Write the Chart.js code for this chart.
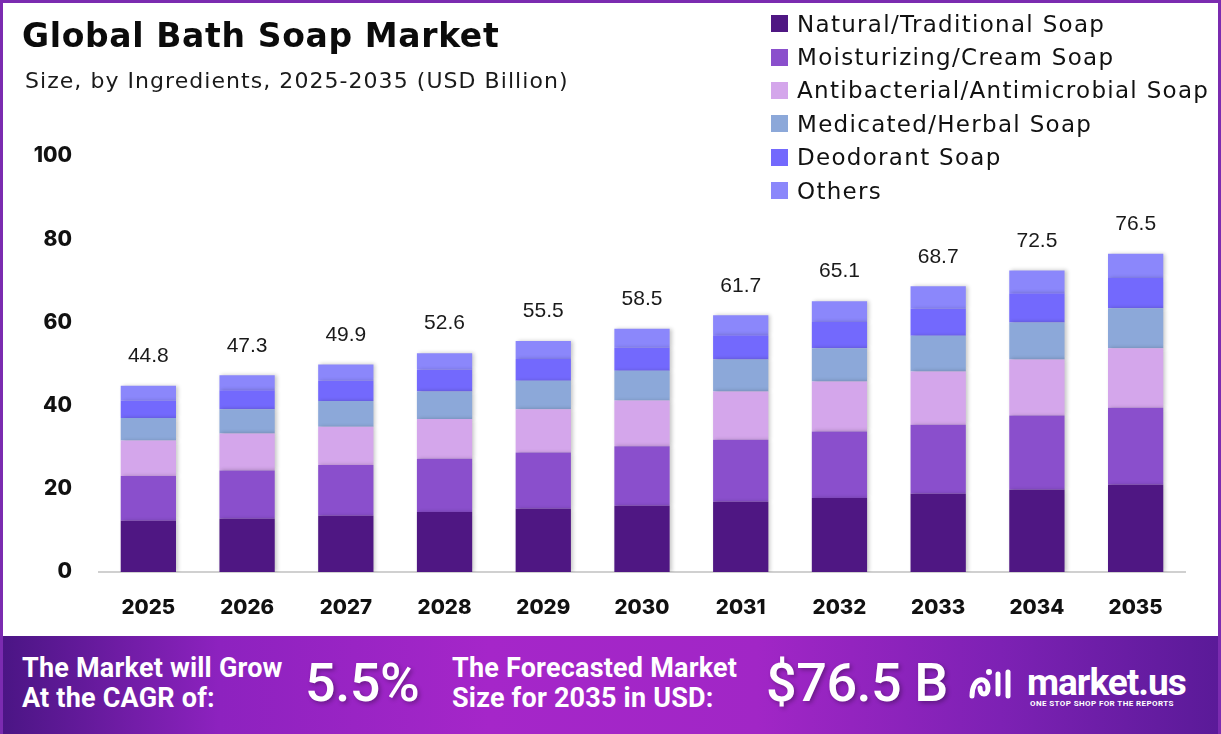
<!DOCTYPE html>
<html>
<head>
<meta charset="utf-8">
<script src="https://cdn.jsdelivr.net/npm/chart.js@4.4.1/dist/chart.umd.min.js"></script>
<style>
  html, body { margin: 0; padding: 0; background: #fff; }
  #frame {
    position: relative; width: 1221px; height: 734px; overflow: hidden;
    box-sizing: border-box; border: 3px solid #7b2bb0; border-bottom: none;
    font-family: Inter, "Noto Sans", sans-serif;
  }
  #chart-wrap { position: absolute; left: -3px; top: -3px; width: 1221px; height: 636px; }
  #title { position: absolute; left: 19px; top: 13px; font-family: "DejaVu Sans", sans-serif; font-size: 33px; font-weight: 700; color: #0b0b0b; letter-spacing: 0.65px; }
  #subtitle { position: absolute; left: 22px; top: 65px; font-family: "DejaVu Sans", sans-serif; font-size: 22px; color: #1a1a1a; letter-spacing: 1.05px; }
  #legend { position: absolute; left: 768px; top: 4px; }
  .lg-row { display: flex; align-items: center; height: 33.4px; font-family: "DejaVu Sans", sans-serif; font-size: 23px; letter-spacing: 1.3px; color: #111; }
  .lg-box { width: 17px; height: 17px; margin-right: 9px; }
  #banner {
    position: absolute; left: -3px; top: 633px; width: 1221px; height: 101px;
    background: linear-gradient(90deg, #4a1584 0%, #8d22bf 18%, #a526c9 40%, #a126c6 62%, #7d21b4 82%, #5a1a98 100%);
    color: #fff;
  }
  .bn-txt { position: absolute; font-family: Roboto, sans-serif; font-weight: 700; font-size: 27px; line-height: 30px; letter-spacing: 0.2px; }
  .bn-big { position: absolute; font-family: Roboto, sans-serif; font-weight: 500; font-size: 54px; letter-spacing: -0.5px; text-shadow: 2px 2px 4px rgba(0,0,0,0.3); }
  #logo-txt { position: absolute; left: 1027px; top: 25px; font-family: Roboto, sans-serif; font-weight: 700; font-size: 37px; letter-spacing: -1px; }
  #logo-tag { position: absolute; left: 1030px; top: 63px; font-family: Roboto, sans-serif; font-size: 8px; font-weight: 700; letter-spacing: 0.4px; }
</style>
</head>
<body>
<div id="frame">
  <div id="chart-wrap"><canvas id="soap-chart"></canvas></div>
  <div id="title">Global Bath Soap Market</div>
  <div id="subtitle">Size, by Ingredients, 2025-2035 (USD Billion)</div>
  <div id="legend"></div>
  <div id="banner">
    <div class="bn-txt" style="left:22px; top:17px;">The Market will Grow<br>At the CAGR of:</div>
    <div class="bn-big" style="left:305px; top:15px;">5.5%</div>
    <div class="bn-txt" style="left:452px; top:17px;">The Forecasted Market<br>Size for 2035 in USD:</div>
    <div class="bn-big" style="left:766px; top:15px;">$76.5 B</div>
    <svg style="position:absolute; left:968px; top:30px;" width="52" height="36" viewBox="0 0 52 36">
      <path d="M4 30 C4 10, 20 10, 20 22 C20 30, 12 30, 12 22" fill="none" stroke="#fff" stroke-width="5" stroke-linecap="round"/>
      <line x1="30" y1="8" x2="30" y2="28" stroke="#fff" stroke-width="5" stroke-linecap="round"/>
      <line x1="40" y1="6" x2="40" y2="30" stroke="#fff" stroke-width="5" stroke-linecap="round"/>
      <circle cx="21" cy="6" r="3" fill="#fff"/>
    </svg>
    <div id="logo-txt">market.us</div>
    <div id="logo-tag">ONE STOP SHOP FOR THE REPORTS</div>
  </div>
</div>

<script>
'use strict';

// ==================== DATA ====================

const years = ['2025', '2026', '2027', '2028', '2029', '2030', '2031', '2032', '2033', '2034', '2035'];

const naturalSoap       = [12.3, 12.8, 13.5, 14.4, 15.2, 15.9, 16.9, 17.8, 18.8, 19.8, 21.0];
const moisturizingSoap  = [10.8, 11.6, 12.2, 12.8, 13.5, 14.3, 14.9, 16.0, 16.6, 17.8, 18.5];
const antibacterialSoap = [ 8.5,  8.9,  9.2,  9.6, 10.4, 11.0, 11.6, 12.0, 12.8, 13.5, 14.3];
const medicatedSoap     = [ 5.4,  5.8,  6.2,  6.6,  6.9,  7.2,  7.7,  8.0,  8.6,  8.9,  9.6];
const deodorantSoap     = [ 4.2,  4.6,  4.9,  5.2,  5.2,  5.5,  5.8,  6.3,  6.5,  7.0,  7.3];
const otherSoap         = [ 3.6,  3.6,  3.9,  4.0,  4.3,  4.6,  4.8,  5.0,  5.4,  5.5,  5.8];

const totals = [44.8, 47.3, 49.9, 52.6, 55.5, 58.5, 61.7, 65.1, 68.7, 72.5, 76.5];

const seriesNames = [
    'Natural/Traditional Soap',
    'Moisturizing/Cream Soap',
    'Antibacterial/Antimicrobial Soap',
    'Medicated/Herbal Soap',
    'Deodorant Soap',
    'Others'
];
const seriesColors = ['#4f1783', '#8a4fcc', '#d4a6eb', '#8ca8d9', '#7369fd', '#8b87fb'];
const seriesData = [naturalSoap, moisturizingSoap, antibacterialSoap, medicatedSoap, deodorantSoap, otherSoap];

const yTicks = [0, 20, 40, 60, 80, 100];

// ==================== LEGEND (HTML) ====================

const legendEl = document.getElementById('legend');
seriesNames.forEach((name, i) => {
    const row = document.createElement('div');
    row.className = 'lg-row';
    row.innerHTML = `<span class="lg-box" style="background:${seriesColors[i]}"></span><span>${name}</span>`;
    legendEl.appendChild(row);
});

// ==================== PLUGINS ====================

// soft drop shadow on the bars
const barShadow = {
    id: 'barShadow',
    beforeDatasetsDraw(chart) {
        const c = chart.ctx;
        c.save();
        c.shadowColor = 'rgba(0,0,0,0.22)';
        c.shadowBlur = 4;
        c.shadowOffsetX = 2;
        c.shadowOffsetY = 0;
    },
    afterDatasetsDraw(chart) {
        chart.ctx.restore();
    }
};

// totals written above each stack
const totalLabels = {
    id: 'totalLabels',
    afterDatasetsDraw(chart) {
        const c = chart.ctx;
        const top = chart.getDatasetMeta(seriesData.length - 1);
        c.save();
        c.font = '21px "Liberation Sans", Arial, sans-serif';
        c.fillStyle = '#1a1a1a';
        c.textAlign = 'center';
        c.textBaseline = 'bottom';
        top.data.forEach((bar, i) => {
            c.fillText(totals[i].toFixed(1), bar.x, bar.y - 19);
        });
        c.restore();
    }
};

// ==================== CHART ====================

const ctx = document.getElementById('soap-chart').getContext('2d');

new Chart(ctx, {
    type: 'bar',
    data: {
        labels: years,
        datasets: seriesData.map((d, i) => ({
            label: seriesNames[i],
            data: d,
            backgroundColor: seriesColors[i],
            borderWidth: 0,
            barPercentage: 0.56,
            categoryPercentage: 1
        }))
    },
    options: {
        responsive: true,
        maintainAspectRatio: false,
        animation: false,
        layout: {
            padding: { top: 156, right: 36, bottom: 0, left: 0 }
        },
        scales: {
            x: {
                stacked: true,
                grid: { display: false },
                border: { display: true, color: '#d0d0d0', width: 2 },
                ticks: {
                    color: '#111',
                    padding: 16,
                    font: { family: 'Inter', size: 20.5, weight: '800' }
                },
                afterFit(scale) { scale.height = 64; }
            },
            y: {
                stacked: true,
                min: 0,
                max: 100,
                grid: { display: false },
                border: { display: false },
                afterBuildTicks(scale) {
                    scale.ticks = yTicks.map(v => ({ value: v }));
                },
                ticks: {
                    color: '#111',
                    padding: 19,
                    font: { family: 'Inter', size: 21, weight: '800' }
                },
                afterFit(scale) { scale.width = 99; }
            }
        },
        plugins: {
            legend: { display: false },
            tooltip: { enabled: false }
        }
    },
    plugins: [barShadow, totalLabels]
});
</script>
</body>
</html>
